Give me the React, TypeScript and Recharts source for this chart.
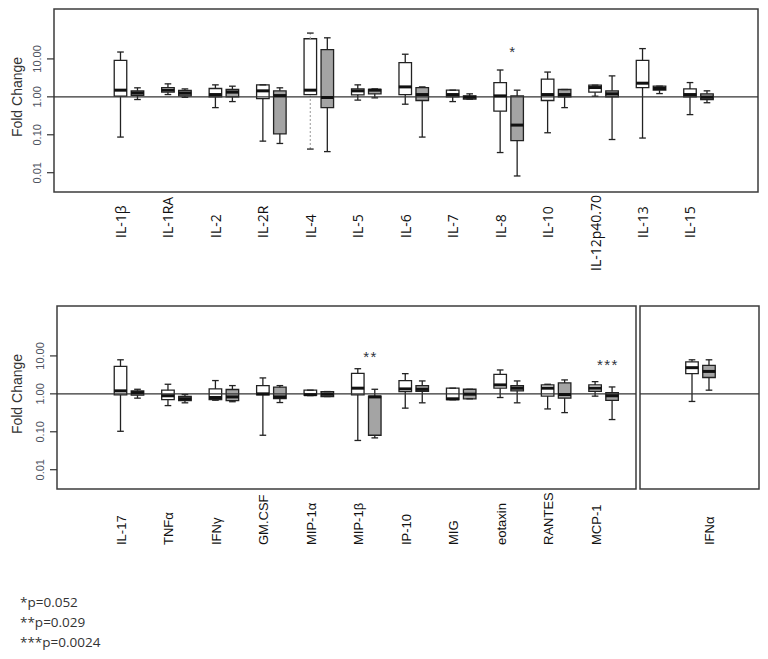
import React from 'react';
import { ComposedChart, XAxis, YAxis, Scatter, ReferenceArea, ReferenceLine } from 'recharts';

type Five = [number, number, number, number, number]; // low whisker, q1, median, q3, high whisker

// ---- data (fold change) ----
const topCytokines = ['IL-1β', 'IL-1RA', 'IL-2', 'IL-2R', 'IL-4', 'IL-5', 'IL-6', 'IL-7', 'IL-8', 'IL-10', 'IL-12p40.70', 'IL-13', 'IL-15'];
const topOpen: Five[] = [
  [0.087, 1.04, 1.5, 9.2, 15.2],
  [1.15, 1.33, 1.5, 1.76, 2.2],
  [0.52, 1.0, 1.15, 1.66, 2.07],
  [0.068, 0.9, 1.44, 2.07, 2.07],
  [0.042, 1.15, 1.5, 34, 48],
  [0.82, 1.13, 1.44, 1.62, 2.07],
  [0.64, 1.15, 1.83, 8.0, 13.3],
  [0.75, 1.0, 1.15, 1.5, 1.5],
  [0.034, 0.42, 1.06, 2.38, 5.1],
  [0.113, 0.8, 1.15, 2.92, 4.5],
  [1.04, 1.33, 1.76, 2.03, 2.03],
  [0.082, 1.76, 2.29, 9.2, 18.7],
  [0.34, 1.0, 1.15, 1.62, 2.38],
];
const topShaded: Five[] = [
  [0.85, 1.1, 1.27, 1.44, 1.73],
  [0.97, 1.06, 1.25, 1.47, 1.62],
  [0.75, 1.0, 1.33, 1.56, 1.91],
  [0.059, 0.106, 1.08, 1.44, 1.73],
  [0.036, 0.52, 0.96, 17.6, 36],
  [0.94, 1.2, 1.5, 1.56, 1.62],
  [0.087, 0.8, 1.15, 1.76, 1.83],
  [0.87, 0.87, 0.98, 1.06, 1.2],
  [0.0082, 0.07, 0.18, 1.06, 1.5],
  [0.52, 1.0, 1.15, 1.56, 1.56],
  [0.075, 1.0, 1.2, 1.44, 3.57],
  [1.22, 1.5, 1.66, 1.91, 1.91],
  [0.7, 0.85, 0.98, 1.2, 1.44],
];

const bottomCytokines = ['IL-17', 'TNFα', 'IFNγ', 'GM.CSF', 'MIP-1α', 'MIP-1β', 'IP-10', 'MIG', 'eotaxin', 'RANTES', 'MCP-1'];
const bottomOpen: Five[] = [
  [0.103, 0.94, 1.2, 5.3, 7.9],
  [0.49, 0.7, 0.89, 1.25, 1.79],
  [0.68, 0.71, 0.8, 1.35, 2.24],
  [0.081, 0.94, 1.0, 1.65, 2.63],
  [0.9, 0.92, 0.95, 1.25, 1.25],
  [0.059, 0.94, 1.41, 3.48, 4.6],
  [0.42, 1.15, 1.35, 2.24, 3.41],
  [0.7, 0.7, 0.74, 1.41, 1.41],
  [0.8, 1.41, 1.72, 3.27, 4.26],
  [0.4, 0.87, 1.41, 1.72, 1.79],
  [0.87, 1.17, 1.41, 1.72, 2.1],
];
const bottomShaded: Five[] = [
  [0.77, 0.92, 1.08, 1.2, 1.32],
  [0.58, 0.66, 0.74, 0.85, 0.96],
  [0.62, 0.66, 0.83, 1.3, 1.65],
  [0.59, 0.75, 0.83, 1.5, 1.65],
  [0.85, 0.85, 0.98, 1.15, 1.15],
  [0.069, 0.081, 0.83, 0.87, 1.32],
  [0.58, 1.17, 1.32, 1.65, 2.19],
  [0.74, 0.74, 0.98, 1.32, 1.32],
  [0.58, 1.2, 1.41, 1.65, 2.19],
  [0.32, 0.77, 0.96, 1.94, 2.33],
  [0.21, 0.67, 0.89, 1.08, 1.52],
];

const ifnCytokines = ['IFNα'];
const ifnOpen: Five[] = [[0.63, 3.41, 4.9, 7.0, 7.9]];
const ifnShaded: Five[] = [[1.25, 2.7, 3.9, 5.6, 7.9]];

const dottedOpenWhiskers = ['IL-4'];

const yTicks = [0.01, 0.1, 1, 10];

const sigCytokines = ['IL-8', 'MIP-1β', 'MCP-1'];
const sigHeights = [18, 11, 6.9];
const sigStars = ['*', '**', '***'];

const footnotes = ['*p=0.052', '**p=0.029', '***p=0.0024'];

// ---- layout / style constants ----
const Y_DOMAIN: [number, number] = [0.0031, 207];
const PAIR_SHIFT = 0.358;
const BOX_HALF = 0.132;
const CAP_HALF = 0.07;
const STAR_SHIFT = 0.27;
const GREY = '#a4a4a4';
const INK = '#222';

const buildRows = (cats: string[], open: Five[], shaded: Five[]) =>
  cats.flatMap((name, i) => {
    const mk = (v: Five, x: number, grp: 'open' | 'shaded') => ({
      name, x, grp, low: v[0], q1: v[1], med: v[2], q3: v[3], high: v[4],
    });
    return [mk(open[i], i, 'open'), mk(shaded[i], i + PAIR_SHIFT, 'shaded')];
  });

const buildSig = (cats: string[]) =>
  sigCytokines
    .map((c, k) => ({ idx: cats.indexOf(c), k }))
    .filter((s) => s.idx >= 0)
    .map(({ idx, k }) => ({ x: idx + STAR_SHIFT, y: sigHeights[k], text: sigStars[k] }));

const MedianMark = (props: any) => {
  const { cx, cy } = props;
  if (cx == null || cy == null) return null;
  return <line x1={cx - 6.4} x2={cx + 6.4} y1={cy} y2={cy} stroke="#111" strokeWidth={3} />;
};

const StarMark = (props: any) => {
  const { cx, cy, payload } = props;
  if (cx == null || cy == null) return null;
  return (
    <text x={cx} y={cy + 8} textAnchor="middle" fontSize={15} fill="#2e323b" letterSpacing={1.5}
      fontFamily="Liberation Sans, Arial, sans-serif">
      {payload.text}
    </text>
  );
};

const ValueTick = (props: any) => {
  const { x, y, payload } = props;
  const tx = x - 4;
  return (
    <text x={tx} y={y} transform={`rotate(-90, ${tx}, ${y})`} textAnchor="middle" fontSize={11}
      fill="#4d5260" fontFamily="Liberation Sans, Arial, sans-serif">
      {Number(payload.value).toFixed(2)}
    </text>
  );
};

interface PanelProps {
  width: number;
  height: number;
  margin: { top: number; right: number; bottom: number; left: number };
  xDomain: [number, number];
  cats: string[];
  open: Five[];
  shaded: Five[];
  tickPos: number[];
  showY: boolean;
  labelFont: string;
  labelSize: number;
  labelDrop: number;
}

const Panel: React.FC<PanelProps> = ({
  width, height, margin, xDomain, cats, open, shaded, tickPos, showY, labelFont, labelSize, labelDrop,
}) => {
  const rows = buildRows(cats, open, shaded);
  const sig = buildSig(cats);

  const CatTick = (props: any) => {
    const { x, y, payload } = props;
    const i = tickPos.indexOf(payload.value);
    const label = cats[i] ?? '';
    const tx = x + 5.5;
    const long = label.length > 8;
    const ty = long ? y + 3 : y + labelDrop;
    return (
      <text x={tx} y={ty} transform={`rotate(-90, ${tx}, ${ty})`} textAnchor={long ? 'end' : 'start'}
        fontSize={labelSize} fill="#111" fontFamily={labelFont}>
        {label}
      </text>
    );
  };

  return (
    <ComposedChart width={width} height={height} margin={margin}>
      <XAxis type="number" dataKey="x" domain={xDomain} allowDataOverflow ticks={tickPos} interval={0}
        axisLine={false} tickLine={false} tickSize={0} tickMargin={0} height={100} tick={<CatTick />} />
      <YAxis type="number" scale="log" domain={Y_DOMAIN} allowDataOverflow ticks={yTicks} interval={0}
        hide={!showY} width={30} axisLine={false} tickSize={7} tickMargin={2}
        tickLine={{ stroke: '#333', strokeWidth: 1.2 }} tick={<ValueTick />} />

      {rows.map((r) => {
        const dotted = r.grp === 'open' && dottedOpenWhiskers.includes(r.name);
        const wStroke = dotted ? '#b0b0b0' : INK;
        const dash = dotted ? '2 2' : undefined;
        return (
          <React.Fragment key={`${r.name}-${r.grp}`}>
            <ReferenceLine segment={[{ x: r.x, y: r.low }, { x: r.x, y: r.q1 }]} stroke={wStroke}
              strokeWidth={1.3} strokeDasharray={dash} ifOverflow="visible" />
            <ReferenceLine segment={[{ x: r.x, y: r.q3 }, { x: r.x, y: r.high }]} stroke={wStroke}
              strokeWidth={1.3} strokeDasharray={dash} ifOverflow="visible" />
            <ReferenceLine segment={[{ x: r.x - CAP_HALF, y: r.low }, { x: r.x + CAP_HALF, y: r.low }]}
              stroke={INK} strokeWidth={1.3} ifOverflow="visible" />
            <ReferenceLine segment={[{ x: r.x - CAP_HALF, y: r.high }, { x: r.x + CAP_HALF, y: r.high }]}
              stroke={INK} strokeWidth={1.3} ifOverflow="visible" />
            <ReferenceArea x1={r.x - BOX_HALF} x2={r.x + BOX_HALF} y1={r.q1} y2={r.q3}
              fill={r.grp === 'shaded' ? GREY : '#ffffff'} fillOpacity={1} stroke={INK} strokeWidth={1.3}
              ifOverflow="visible" />
          </React.Fragment>
        );
      })}

      <ReferenceLine y={1} stroke="#333" strokeWidth={1.3} />
      <ReferenceArea x1={xDomain[0]} x2={xDomain[1]} y1={Y_DOMAIN[0]} y2={Y_DOMAIN[1]} fill="none"
        stroke="#3c3c3c" strokeWidth={1.5} ifOverflow="visible" />

      <Scatter data={rows} dataKey="med" shape={<MedianMark />} isAnimationActive={false} />
      {sig.length > 0 && (
        <Scatter data={sig} dataKey="y" shape={<StarMark />} isAnimationActive={false} />
      )}
    </ComposedChart>
  );
};

const idx = (cats: string[]) => cats.map((_, i) => i);

const FoldLabel = ({ cx, cy }: { cx: number; cy: number }) => (
  <div style={{
    position: 'absolute', left: cx, top: cy, transform: 'translate(-50%, -50%) rotate(-90deg)',
    whiteSpace: 'nowrap', fontFamily: 'Liberation Sans, Arial, sans-serif', fontSize: 14, color: '#333',
  }}>
    Fold Change
  </div>
);

const App: React.FC = () => (
  <div style={{ position: 'absolute', left: 0, top: 0, width: 768, height: 659, background: '#fff', overflow: 'hidden' }}>
    <div style={{ position: 'absolute', left: 0, top: 0 }}>
      <Panel width={768} height={300} margin={{ top: 9, right: 10, bottom: 8, left: 24 }}
        xDomain={[-1.401, 13.433]} cats={topCytokines} open={topOpen} shaded={topShaded}
        tickPos={idx(topCytokines)} showY labelFont="Open Sans, sans-serif" labelSize={14} labelDrop={46} />
    </div>
    <div style={{ position: 'absolute', left: 0, top: 297 }}>
      <Panel width={640} height={300} margin={{ top: 9, right: 4, bottom: 8, left: 27 }}
        xDomain={[-1.338, 10.862]} cats={bottomCytokines} open={bottomOpen} shaded={bottomShaded}
        tickPos={idx(bottomCytokines)} showY labelFont="Liberation Sans, Arial, sans-serif" labelSize={13} labelDrop={56} />
    </div>
    <div style={{ position: 'absolute', left: 630, top: 297 }}>
      <Panel width={138} height={300} margin={{ top: 9, right: 9, bottom: 8, left: 10 }}
        xDomain={[-1.096, 1.412]} cats={ifnCytokines} open={ifnOpen} shaded={ifnShaded}
        tickPos={[PAIR_SHIFT]} showY={false} labelFont="Liberation Sans, Arial, sans-serif" labelSize={13} labelDrop={56} />
    </div>

    <FoldLabel cx={17} cy={97} />
    <FoldLabel cx={17} cy={394} />

    <div style={{ position: 'absolute', left: 20, top: 592, fontFamily: 'Open Sans, sans-serif', fontSize: 13.5, lineHeight: '20px', color: '#333' }}>
      {footnotes.map((f) => (
        <div key={f}>{f}</div>
      ))}
    </div>
  </div>
);

export default App;
